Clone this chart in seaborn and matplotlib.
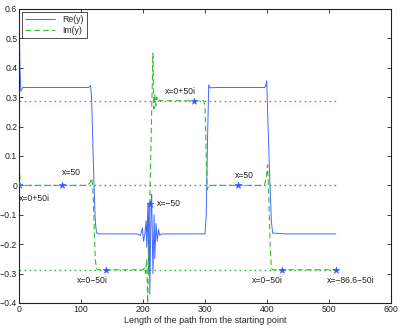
import numpy as np
import pandas as pd
import seaborn as sns
import matplotlib
matplotlib.use("Agg")
import matplotlib.pyplot as plt

# Re(y) along the path
re_x = [0, 1.5, 3, 6, 60, 112, 115.5, 117, 119, 121, 123, 125, 130, 190, 196, 199, 201, 203,
        205, 206, 208, 209, 210, 211, 213, 214, 216, 218, 219, 221, 223, 225, 227, 230, 300,
        302, 304, 306, 308, 320, 396, 398, 399.5, 401, 404, 407, 409, 430, 511]
re_y = [0.62, 0.40, 0.32, 0.333, 0.333, 0.333, 0.339, 0.30, 0.15, 0.0, -0.12, -0.162, -0.165,
        -0.165, -0.17, -0.145, -0.19, -0.165, -0.12, -0.21, -0.06, -0.30, -0.06, -0.37, -0.06,
        -0.03, -0.30, -0.10, -0.25, -0.13, -0.19, -0.15, -0.17, -0.165, -0.165, -0.10, 0.15,
        0.342, 0.332, 0.333, 0.333, 0.338, 0.356, 0.25, 0.05, -0.12, -0.162, -0.165, -0.165]

# Im(y) along the path
im_x = [0, 1, 2, 30, 110, 115, 117, 119, 121, 123, 125, 127, 200, 203, 204, 206, 207.5, 216,
        217.5, 219, 220.5, 222, 224, 227, 230, 298, 300, 302, 303.5, 306, 320, 396, 399, 401,
        403, 405, 407, 408.5, 430, 511]
im_y = [0.13, 0.05, 0.0, 0.0, 0.0, 0.01, 0.025, 0.0, -0.12, -0.25, -0.283, -0.287, -0.287,
        -0.28, -0.30, -0.25, -0.40, 0.45, 0.26, 0.31, 0.27, 0.30, 0.283, 0.29, 0.288, 0.288,
        0.27, 0.10, -0.015, 0.0, 0.0, 0.0, 0.03, 0.07, -0.05, -0.2, -0.28, -0.287, -0.287, -0.287]

# reference levels
levels = [0.2887, 0.0, -0.2887]
level_colors = ["#ff5555", "#6677ff", "#33bb33"]
level_end = 511

# marked points and their labels
pt_x = [0, 70, 141, 212, 282, 353, 424, 511]
pt_y = [0.0, 0.0, -0.2887, -0.063, 0.2887, 0.0, -0.2887, -0.2887]
pt_text = ["x=0+50i", "x=50", "x=0\u221250i", "x=\u221250", "x=0+50i", "x=50",
           "x=0\u221250i", "x=\u221286.6\u221250i"]
txt_x = [0, 85, 118, 222, 261, 363, 400, 497]
txt_y = [-0.045, 0.045, -0.322, -0.063, 0.318, 0.035, -0.322, -0.322]
txt_ha = ["left", "center", "center", "left", "center", "center", "center", "left"]

sns.set_theme(style="ticks")
plt.rcParams["font.family"] = ["Liberation Sans", "DejaVu Sans"]
plt.rcParams["xtick.direction"] = "in"
plt.rcParams["ytick.direction"] = "in"

fig = plt.figure(figsize=(4.01, 3.28), dpi=100)
ax = fig.add_axes([19 / 401, 25 / 328, 372 / 401, 294 / 328])

for lv, c in zip(levels, level_colors):
    ax.plot([0, level_end], [lv, lv], color=c, linestyle=(0, (1.2, 2.4)), linewidth=1.0,
            solid_capstyle="butt")

df_re = pd.DataFrame({"x": re_x, "y": re_y})
df_im = pd.DataFrame({"x": im_x, "y": im_y})
sns.lineplot(data=df_re, x="x", y="y", ax=ax, color="#4466ff", linewidth=0.7,
             label="Re(y)", sort=False, estimator=None)
sns.lineplot(data=df_im, x="x", y="y", ax=ax, color="#33bb33", linewidth=0.8,
             linestyle=(0, (5, 3)), label="Im(y)", sort=False, estimator=None)

df_pt = pd.DataFrame({"x": pt_x, "y": pt_y})
sns.scatterplot(data=df_pt, x="x", y="y", ax=ax, marker="*", s=26, color="#3355ff",
                edgecolor="#3355ff", linewidth=0.3, legend=False, zorder=5)

for tx, ty, t, ha in zip(txt_x, txt_y, pt_text, txt_ha):
    ax.text(tx, ty, t, fontsize=6.2, ha=ha, va="center", color="#222222")

ax.set_xlim(0, 600)
ax.set_ylim(-0.4, 0.6)
ax.set_xticks(np.arange(0, 601, 100))
ax.set_yticks(np.round(np.arange(-0.4, 0.61, 0.1), 1))
ax.set_yticklabels(["\u22120.4", "\u22120.3", "\u22120.2", "\u22120.1", "0", "0.1", "0.2",
                    "0.3", "0.4", "0.5", "0.6"])
ax.tick_params(axis="both", labelsize=6.3, length=3, width=0.6, pad=1.2,
               top=True, right=True, colors="#222222")
for sp in ax.spines.values():
    sp.set_linewidth(0.8)
    sp.set_color("#222222")
ax.set_xlabel("Length of the path from the starting point", fontsize=6.5, labelpad=1.5)
ax.set_ylabel("")

leg = ax.legend(loc="upper left", fontsize=6.3, frameon=True, fancybox=False,
                borderpad=0.35, handlelength=3.5, labelspacing=0.25, borderaxespad=0.3)
leg.get_frame().set_edgecolor("#222222")
leg.get_frame().set_linewidth(0.7)

fig.savefig("out.png", dpi=100)
